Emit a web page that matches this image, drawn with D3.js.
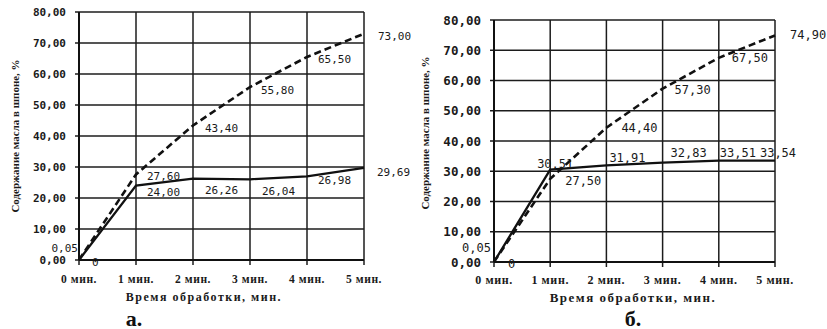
<!DOCTYPE html>
<html>
<head>
<meta charset="utf-8">
<script src="https://cdn.jsdelivr.net/npm/d3@7"></script>
<style>
  html, body { margin: 0; padding: 0; background: #fff; }
  svg { display: block; }
  .tick-y { font-family: "DejaVu Sans Mono", monospace; font-weight: bold; fill: #1a1a1a; }
  .tick-x { font-family: "Liberation Serif", serif; font-weight: bold; fill: #1a1a1a; letter-spacing: 0.6px; }
  .axis-title { font-family: "Liberation Serif", serif; font-weight: bold; fill: #1a1a1a; }
  .data-label { font-family: "DejaVu Sans Mono", monospace; fill: #1a1a1a; }
  .panel-mark { font-family: "Liberation Serif", serif; font-weight: bold; fill: #111; }
</style>
</head>
<body>
<svg id="chart" width="827" height="329"></svg>
<script>
// Processing time categories (minutes) and their tick labels
const minutes = [0, 1, 2, 3, 4, 5];
const xTickLabels = ["0 мин.", "1 мин.", "2 мин.", "3 мин.", "4 мин.", "5 мин."];
const yTicks = [0, 10, 20, 30, 40, 50, 60, 70, 80];

// Panel а: oil content in veneer, %
const dashedA = [0.05, 27.60, 43.40, 55.80, 65.50, 73.00];
const solidA  = [0, 24.00, 26.26, 26.04, 26.98, 29.69];

// Panel б: oil content in veneer, %
const dashedB = [0.05, 27.50, 44.40, 57.30, 67.50, 74.90];
const solidB  = [0, 30.51, 31.91, 32.83, 33.51, 33.54];

const yTitle = "Содержание масла в шпоне, %";
const xTitle = "Время обработки, мин.";

const fmt = v => v === 0 ? "0" : d3.format(".2f")(v).replace(".", ",");

// Label placement per point: [dx, dy, anchor]
const placeDashedA = [[-1, -11, "end"], [11, 2], [12, 3], [11, 3], [11, 3], [14, 3]];
const placeSolidA  = [[13, 2], [11, 7], [12, 12], [12, 12], [11, 4], [13, 5]];
const placeDashedB = [[-3, -14, "end"], [15, 2], [15, 0], [12, 1], [13, 0], [15, 0]];
const placeSolidB  = [[14, 2], [5, -6, "middle"], [3, -7], [8, -10], [1, -8], [3, -8, "middle"]];

const svg = d3.select("#chart");

function panel(cfg) {
  const x = d3.scaleLinear().domain([0, 5]).range([cfg.x0, cfg.x1]);
  const y = d3.scaleLinear().domain([0, 80]).range([cfg.y0, cfg.y1]);
  const g = svg.append("g");

  // horizontal gridlines
  g.selectAll(".hg").data(yTicks).join("line")
    .attr("x1", x(0)).attr("x2", x(5))
    .attr("y1", d => y(d)).attr("y2", d => y(d))
    .attr("stroke", "#1c1c1c").attr("stroke-width", 1.5);

  // vertical gridlines with small ticks below the axis
  g.selectAll(".vg").data(minutes).join("line")
    .attr("x1", d => x(d)).attr("x2", d => x(d))
    .attr("y1", y(80)).attr("y2", y(0) + 5)
    .attr("stroke", "#1c1c1c").attr("stroke-width", 1.5);

  // y ticks
  g.selectAll(".yt").data(yTicks).join("line")
    .attr("x1", x(0) - 4).attr("x2", x(0))
    .attr("y1", d => y(d)).attr("y2", d => y(d))
    .attr("stroke", "#1c1c1c").attr("stroke-width", 1.5);

  // axis lines
  g.append("line").attr("x1", x(0)).attr("x2", x(0)).attr("y1", y(80)).attr("y2", y(0))
    .attr("stroke", "#111").attr("stroke-width", 2);
  g.append("line").attr("x1", x(0)).attr("x2", x(5)).attr("y1", y(0)).attr("y2", y(0))
    .attr("stroke", "#111").attr("stroke-width", 2);

  // y tick labels
  g.selectAll(".ytl").data(yTicks).join("text")
    .attr("class", "tick-y")
    .attr("x", cfg.yLabelX).attr("y", d => y(d))
    .attr("text-anchor", "end").attr("dominant-baseline", "central")
    .style("font-size", cfg.tickSize + "px")
    .text(d => d3.format(".2f")(d).replace(".", ","));

  // x tick labels
  g.selectAll(".xtl").data(minutes).join("text")
    .attr("class", "tick-x")
    .attr("x", d => x(d)).attr("y", cfg.xLabelY)
    .attr("text-anchor", "middle").attr("dominant-baseline", "central")
    .style("font-size", cfg.xTickSize + "px")
    .text((d, i) => xTickLabels[i]);

  // axis titles
  g.append("text").attr("class", "axis-title")
    .attr("transform", `translate(${cfg.yTitleX},${cfg.yTitleY}) rotate(-90)`)
    .attr("text-anchor", "middle").attr("dominant-baseline", "central")
    .style("font-size", cfg.yTitleSize + "px")
    .text(yTitle);
  g.append("text").attr("class", "axis-title")
    .attr("x", cfg.xTitleX).attr("y", cfg.xTitleY)
    .attr("text-anchor", "middle").attr("dominant-baseline", "central")
    .style("font-size", cfg.xTitleSize + "px")
    .style("letter-spacing", "1.5px")
    .text(xTitle);

  // panel letter
  g.append("text").attr("class", "panel-mark")
    .attr("x", cfg.markX).attr("y", cfg.markY)
    .attr("text-anchor", "middle").attr("dominant-baseline", "central")
    .style("font-size", "22px")
    .text(cfg.mark);

  const line = d3.line().x((d, i) => x(minutes[i])).y(d => y(d));

  g.append("path").datum(cfg.solid)
    .attr("d", line).attr("fill", "none")
    .attr("stroke", "#111").attr("stroke-width", 2.3);
  g.append("path").datum(cfg.dashed)
    .attr("d", line).attr("fill", "none")
    .attr("stroke", "#111").attr("stroke-width", 2.6)
    .attr("stroke-dasharray", "7,4");

  function labels(values, place) {
    g.selectAll(null).data(values).join("text")
      .attr("class", "data-label")
      .attr("x", (d, i) => x(minutes[i]) + place[i][0])
      .attr("y", (d, i) => y(d) + place[i][1])
      .attr("text-anchor", (d, i) => place[i][2] || "start")
      .attr("dominant-baseline", "central")
      .style("font-size", cfg.labelSize + "px")
      .text(fmt);
  }
  labels(cfg.dashed, cfg.placeDashed);
  labels(cfg.solid, cfg.placeSolid);
}

panel({
  x0: 79, x1: 364, y0: 260, y1: 12,
  yLabelX: 66, xLabelY: 279, tickSize: 11, xTickSize: 11.5,
  yTitleX: 15, yTitleY: 136, yTitleSize: 11,
  xTitleX: 204, xTitleY: 297, xTitleSize: 12,
  markX: 134, markY: 318, mark: "а.",
  labelSize: 11,
  dashed: dashedA, solid: solidA,
  placeDashed: placeDashedA, placeSolid: placeSolidA
});

panel({
  x0: 494, x1: 775, y0: 262, y1: 20,
  yLabelX: 481, xLabelY: 280, tickSize: 12.5, xTickSize: 12,
  yTitleX: 425, yTitleY: 133, yTitleSize: 11,
  xTitleX: 633, xTitleY: 297, xTitleSize: 13,
  markX: 633, markY: 318, mark: "б.",
  labelSize: 12,
  dashed: dashedB, solid: solidB,
  placeDashed: placeDashedB, placeSolid: placeSolidB
});
</script>
</body>
</html>
